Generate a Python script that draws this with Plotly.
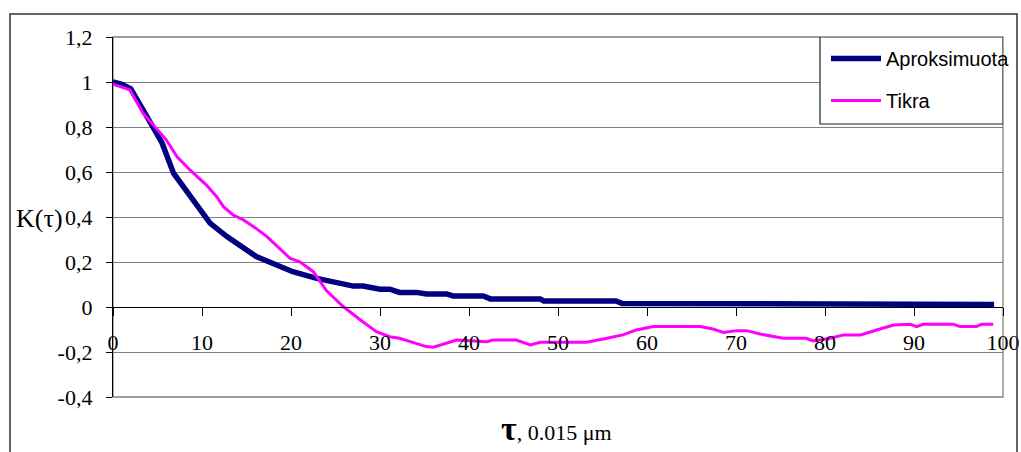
import plotly.graph_objects as go

# ---- data ----
aprox_x = [0, 1, 2, 3.4, 5.5, 6.8, 8.65, 10.9, 12.8, 15,
           16.1, 20.2, 22.9, 27, 28.1, 30, 31.1, 32.2, 34.1, 35.2,
           37.5, 38.2, 41.6, 42.4, 48, 48.4, 56.5, 57.2, 73.5, 74,
           99]
aprox_y = [1.0, 0.99, 0.97, 0.875, 0.73, 0.595, 0.49, 0.373, 0.313, 0.253,
           0.224, 0.157, 0.127, 0.093, 0.093, 0.079, 0.079, 0.065, 0.065, 0.058,
           0.058, 0.049, 0.049, 0.036, 0.036, 0.027, 0.027, 0.016, 0.016, 0.011,
           0.011]

tikra_x = [0, 1.9, 3.4, 6, 7.2, 8.65, 10.5, 11.65, 12.4, 13.5,
           14.65, 15.8, 17.3, 19.9, 21, 22.5, 24, 25.9, 27.8, 29.6,
           31.1, 32.2, 33.4, 35.2, 36, 37.5, 38.6, 42, 42.7, 45.3,
           46.9, 48, 53.2, 55.5, 57.3, 58.8, 60.7, 66, 67.4, 68.6,
           70.1, 71.2, 72.7, 75.3, 77.9, 78.7, 80.6, 82.1, 84, 85.8,
           87.7, 89.6, 90.3, 91, 94.4, 95.2, 97, 97.6, 98.9]
tikra_y = [0.99, 0.965, 0.86, 0.742, 0.668, 0.609, 0.542, 0.49, 0.446, 0.409,
           0.387, 0.357, 0.313, 0.216, 0.201, 0.157, 0.072, 0.001, -0.058, -0.11,
           -0.132, -0.139, -0.154, -0.176, -0.179, -0.161, -0.147, -0.154, -0.147, -0.147,
           -0.169, -0.157, -0.157, -0.139, -0.124, -0.102, -0.087, -0.087, -0.098, -0.113,
           -0.105, -0.105, -0.12, -0.139, -0.139, -0.151, -0.139, -0.124, -0.124, -0.102,
           -0.08, -0.077, -0.087, -0.077, -0.077, -0.087, -0.087, -0.077, -0.077]

x_ticks = [0, 10, 20, 30, 40, 50, 60, 70, 80, 90, 100]
y_ticks = [-0.4, -0.2, 0, 0.2, 0.4, 0.6, 0.8, 1.0, 1.2]
y_tick_text = ["-0,4", "-0,2", "0", "0,2", "0,4", "0,6", "0,8", "1", "1,2"]

SERIF = "Liberation Serif"
SANS = "Liberation Sans"

fig = go.Figure()
fig.add_trace(go.Scatter(x=aprox_x, y=aprox_y, mode="lines", name="Aproksimuota",
                         line=dict(color="#000080", width=5.5), legendgroup="a"))
fig.add_trace(go.Scatter(x=tikra_x, y=tikra_y, mode="lines", name="Tikra",
                         line=dict(color="#FF00FF", width=3), legendgroup="b"))
# invisible trace to carry the tick-mark axis at y=0
fig.add_trace(go.Scatter(x=[0, 100], y=[0, 0], mode="lines", xaxis="x2",
                         line=dict(width=0), showlegend=False, hoverinfo="skip"))

L, R, T, B = 113, 18, 37, 55
H = 452
PW = 1021 - L - R
plot_h = H - T - B
p_zero = (0 - (-0.4)) / 1.6


def px_to_xdata(px):
    return (px - L) / PW * 100


def py_to_ydata(py):
    return 1.2 - (py - T) / plot_h * 1.6


fig.update_layout(
    width=1021, height=452,
    margin=dict(l=L, r=R, t=T, b=B, autoexpand=False),
    paper_bgcolor="white", plot_bgcolor="white",
    showlegend=True,
    legend=dict(x=(826 - L) / PW, y=(H - B - 39) / plot_h, xanchor="left", yanchor="top",
                bgcolor="rgba(0,0,0,0)", borderwidth=0,
                font=dict(family=SANS, size=20, color="black"),
                tracegroupgap=13, itemwidth=50),
    xaxis=dict(range=[0, 100], tickvals=x_ticks, showgrid=False, zeroline=False,
               showline=False, ticks="", anchor="free", position=(H - B - 327) / plot_h,
               automargin=False,
               tickfont=dict(family=SERIF, size=22, color="black")),
    xaxis2=dict(range=[0, 100], tickvals=x_ticks, overlaying="x", anchor="free",
                position=p_zero, side="bottom", showgrid=False, zeroline=False,
                showline=True, linecolor="black", linewidth=1.3, automargin=False,
                ticks="outside", ticklen=8, tickcolor="black", tickwidth=1.3,
                showticklabels=False),
    yaxis=dict(range=[-0.4, 1.2], tickvals=y_ticks, ticktext=y_tick_text,
               showgrid=True, gridcolor="#808080", gridwidth=1.3, zeroline=False,
               showline=True, linecolor="black", linewidth=1.3, automargin=False,
               ticks="outside", ticklen=6, tickcolor="black", tickwidth=1.3,
               ticklabelstandoff=9,
               tickfont=dict(family=SERIF, size=22, color="black")),
    shapes=[
        # plot area frame (gray)
        dict(type="rect", xref="paper", yref="paper", x0=0, x1=1, y0=0, y1=1,
             line=dict(color="#808080", width=1.3), layer="below"),
        # legend box
        dict(type="rect", xref="x", yref="y",
             x0=px_to_xdata(820), x1=100, y0=py_to_ydata(124), y1=1.2,
             fillcolor="white", line=dict(color="#222222", width=1.2), layer="between"),
        # outer chart border
        dict(type="rect", xref="paper", yref="paper",
             x0=(10 - L) / PW, x1=(1017 - L) / PW,
             y0=-0.5, y1=(H - B - 14) / plot_h,
             line=dict(color="#333333", width=1.5)),
    ],
    annotations=[
        dict(text="K(τ)", xref="paper", yref="paper", xanchor="center", yanchor="middle",
             x=(39 - L) / PW, y=(H - B - 218) / plot_h, showarrow=False,
             font=dict(family=SERIF, size=26, color="black")),
        dict(text="<span style='font-size:34px'><b>τ</b></span>, 0.015 μm",
             xref="paper", yref="paper", xanchor="center", yanchor="middle",
             x=(556 - L) / PW, y=(H - B - 429) / plot_h, showarrow=False,
             font=dict(family=SERIF, size=22, color="black")),
    ],
)

fig.write_html("out.html")
